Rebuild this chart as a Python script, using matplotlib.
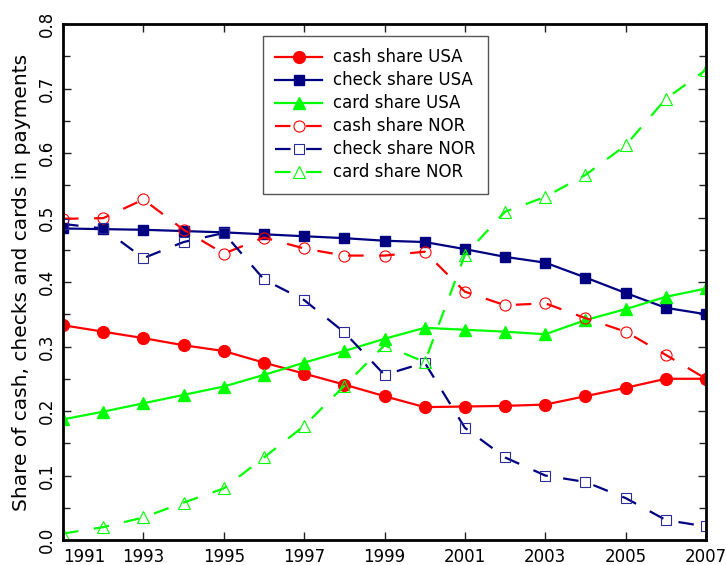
import matplotlib
matplotlib.use("Agg")
import matplotlib.pyplot as plt
from matplotlib.legend_handler import HandlerLine2D
from matplotlib.ticker import MultipleLocator

years = list(range(1991, 2008))
year_ticks = list(range(1991, 2008, 2))
share_ticks = [0.0, 0.1, 0.2, 0.3, 0.4, 0.5, 0.6, 0.7, 0.8]

cash_usa = [0.333, 0.323, 0.313, 0.302, 0.293, 0.275, 0.258, 0.241, 0.223, 0.206,
            0.207, 0.208, 0.210, 0.223, 0.236, 0.250, 0.250]
check_usa = [0.483, 0.482, 0.481, 0.479, 0.477, 0.474, 0.471, 0.468, 0.464, 0.462,
             0.451, 0.439, 0.430, 0.407, 0.383, 0.360, 0.350]
card_usa = [0.187, 0.199, 0.212, 0.225, 0.238, 0.256, 0.275, 0.293, 0.312, 0.329,
            0.326, 0.323, 0.319, 0.341, 0.358, 0.377, 0.390]
cash_nor = [0.498, 0.499, 0.528, 0.481, 0.444, 0.469, 0.452, 0.441, 0.441, 0.447,
            0.385, 0.364, 0.367, 0.344, 0.323, 0.287, 0.250]
check_nor = [0.490, 0.483, 0.437, 0.462, 0.476, 0.404, 0.372, 0.322, 0.256, 0.275,
             0.174, 0.128, 0.100, 0.090, 0.065, 0.031, 0.021]
card_nor = [0.010, 0.020, 0.035, 0.058, 0.080, 0.128, 0.177, 0.239, 0.302, 0.276,
            0.442, 0.509, 0.532, 0.566, 0.612, 0.684, 0.729]

RED = "#ff0000"
NAVY = "#000080"
GREEN = "#00ff00"


class LeftMarker(HandlerLine2D):
    # marker at the left end of the legend line, like the original
    def get_xdata(self, legend, xdescent, ydescent, width, height, fontsize):
        xdata, _ = super().get_xdata(legend, xdescent, ydescent, width, height, fontsize)
        return xdata, [xdata[0] + 4]


fig = plt.figure(figsize=(7.26, 5.65), dpi=100)
ax = fig.add_axes([0.0868, 0.0442, 0.8857, 0.9133])

ax.plot(years, cash_usa, color=RED, lw=1.6, marker="o", ms=8.5, label="cash share USA")
ax.plot(years, check_usa, color=NAVY, lw=1.6, marker="s", ms=7.5, label="check share USA")
ax.plot(years, card_usa, color=GREEN, lw=1.6, marker="^", ms=9, label="card share USA")
ax.plot(years, cash_nor, color=RED, lw=1.6, dashes=(7, 7), marker="o", ms=8,
        mfc="none", mew=0.8, label="cash share NOR")
ax.plot(years, check_nor, color=NAVY, lw=1.6, dashes=(7, 7), marker="s", ms=7,
        mfc="none", mew=0.8, mec="#2a2a9a", label="check share NOR")
ax.plot(years, card_nor, color=GREEN, lw=1.6, dashes=(7, 7), marker="^", ms=9,
        mfc="none", mew=0.8, label="card share NOR")

ax.set_xlim(1991, 2007)
ax.set_ylim(0, 0.8)
ax.set_xticks(year_ticks)
ax.set_xticklabels([str(y) for y in year_ticks])
ax.set_yticks(share_ticks)
ax.set_yticklabels([f"{v:.1f}" for v in share_ticks], rotation=90, va="center")
ax.yaxis.set_minor_locator(MultipleLocator(0.05))
ax.tick_params(which="both", direction="in", top=True, right=True, labelsize=12,
               width=1, color="#222222")
ax.tick_params(which="major", length=6)
ax.tick_params(which="minor", length=5)
ax.tick_params(axis="x", pad=6)
ax.tick_params(axis="y", pad=5)
ax.get_xticklabels()[0].set_ha("left")

for s in ax.spines.values():
    s.set_linewidth(2)

ax.set_ylabel("Share of cash, checks and cards in payments", fontsize=14.5, labelpad=5)

leg = ax.legend(loc="upper left", bbox_to_anchor=(0.311, 0.977), fontsize=12,
                numpoints=1, handlelength=2.8, handletextpad=0.65, borderpad=0.75,
                labelspacing=0.3, borderaxespad=0, fancybox=False,
                edgecolor="#555555", framealpha=1,
                handler_map={plt.Line2D: LeftMarker()})
leg.get_frame().set_linewidth(1)

fig.savefig("out.png", dpi=100)
